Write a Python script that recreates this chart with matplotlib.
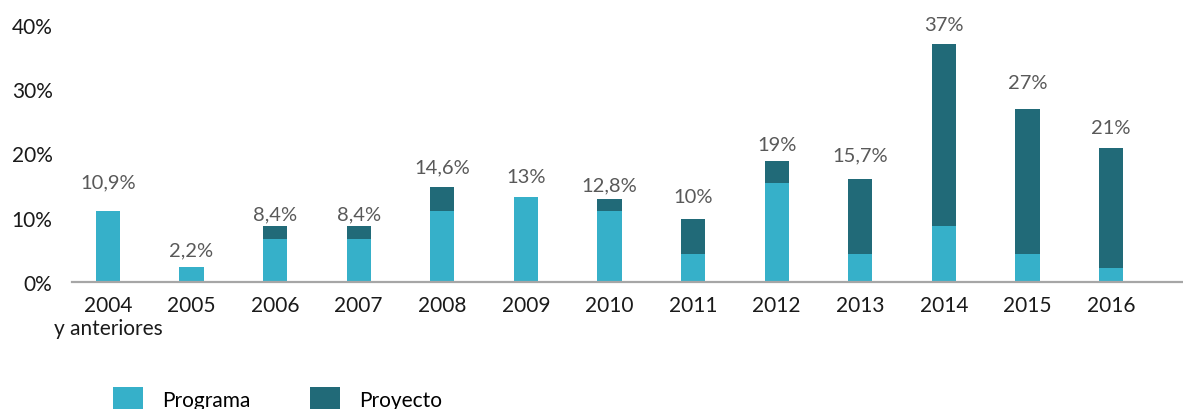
import matplotlib
matplotlib.use("Agg")
import matplotlib.pyplot as plt
import numpy as np

plt.rcParams['font.family'] = ['Lato', 'DejaVu Sans']

categories = ["2004\ny anteriores", "2005", "2006", "2007", "2008", "2009", "2010",
              "2011", "2012", "2013", "2014", "2015", "2016"]
programa = [11.0, 2.4, 6.7, 6.7, 11.0, 13.3, 11.0, 4.3, 15.4, 4.4, 8.7, 4.3, 2.2]
proyecto = [0.0, 0.0, 2.0, 2.0, 3.8, 0.0, 1.9, 5.5, 3.5, 11.7, 28.3, 22.7, 18.7]
total_labels = ["10,9%", "2,2%", "8,4%", "8,4%", "14,6%", "13%", "12,8%",
                "10%", "19%", "15,7%", "37%", "27%", "21%"]
yticks = [0, 10, 20, 30, 40]

# styling: label offsets above bar top (pixels at 100 dpi)
label_offsets_px = [29, 17, 12, 12, 20, 20, 14, 23, 16, 24, 20, 26, 20]

c_prog = "#36B0C9"
c_proy = "#216A78"

fig = plt.figure(figsize=(11.83, 4.10), dpi=100)
ax = fig.add_axes([72/1183, (410-283)/410, 1 - 72/1183, (283-26)/410])

x = np.arange(len(categories))
w = 0.29
ax.bar(x, programa, w, color=c_prog, label="Programa", zorder=2)
ax.bar(x, proyecto, w, bottom=programa, color=c_proy, label="Proyecto", zorder=2)

totals = np.array(programa) + np.array(proyecto)
for xi, t, lab, off in zip(x, totals, total_labels, label_offsets_px):
    ax.annotate(lab, (xi, t), xytext=(0, off * 0.72), textcoords="offset points",
                ha="center", va="center", fontsize=14.5, color="#595959",
                annotation_clip=False)

ax.set_xlim(-0.43, 12.86)
ax.set_ylim(0, 40)
ax.set_yticks(yticks)
ax.set_yticklabels([f"{v}%" for v in yticks])
ax.set_xticks(x)
ax.set_xticklabels(categories, linespacing=1.15)
ax.tick_params(axis="both", length=0, labelsize=15, colors="#1a1a1a")
ax.tick_params(axis="x", pad=9.5)
ax.tick_params(axis="y", pad=14)

for s in ["top", "right", "left"]:
    ax.spines[s].set_visible(False)
ax.spines["bottom"].set_color("#A6A6A6")
ax.spines["bottom"].set_linewidth(1.6)
ax.spines["bottom"].set_zorder(3)

fig.legend(loc="center left", bbox_to_anchor=(113/1183, 10/410), ncol=2,
           frameon=False, fontsize=15, borderpad=0, borderaxespad=0,
           handlelength=1.45, handleheight=1.45, handletextpad=0.9,
           columnspacing=2.85)

fig.savefig("out.png", dpi=100)
